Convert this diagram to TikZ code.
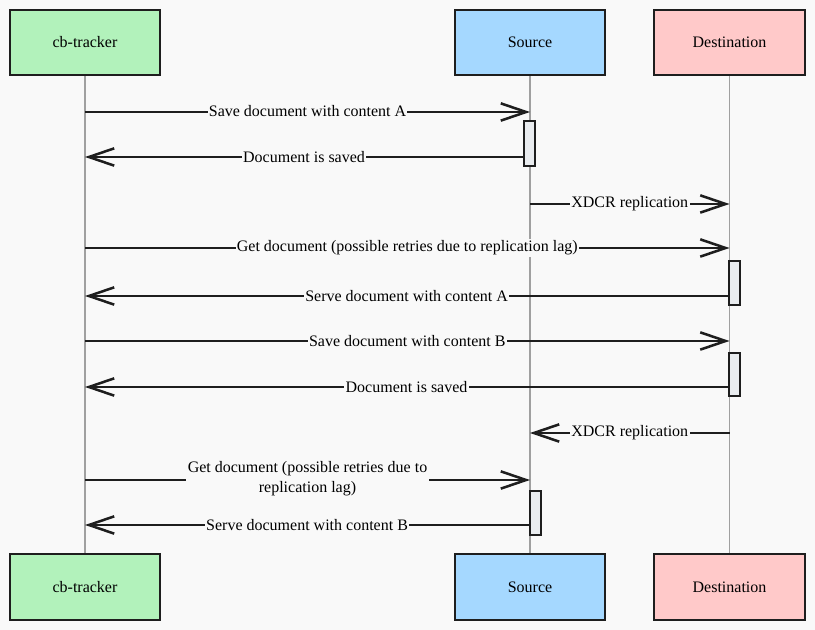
\documentclass[tikz,border=0pt]{standalone}
\usepackage{fontspec}
\setmainfont{Liberation Serif}
\usetikzlibrary{arrows.meta}
\definecolor{bg}{HTML}{F9F9F9}
\definecolor{ink}{HTML}{1E1E1E}
\definecolor{trkgreen}{HTML}{B2F2BB}
\definecolor{srcblue}{HTML}{A5D8FF}
\definecolor{dstpink}{HTML}{FFC9C9}
\definecolor{actfill}{HTML}{E9ECEF}
\definecolor{lifegray}{HTML}{A0A0A0}
\tikzset{
  actor/.style={draw=ink, line width=1.6pt, minimum width=113pt, minimum height=49pt,
    inner sep=0pt, font=\fontsize{12}{14}\selectfont},
  lifeline/.style={draw=lifegray, line width=0.8pt},
  actbar/.style={draw=ink, fill=actfill, line width=1.3pt, minimum width=8.25pt, inner sep=0pt},
  msg/.style={draw=ink, line width=2.1pt, -{Straight Barb[length=19pt,width=13pt,line width=1.9pt]}},
  lbl/.style={fill=bg, inner sep=1pt, font=\fontsize{12}{15}\selectfont, text=black}
}
\begin{document}
\begin{tikzpicture}[x=0.75pt,y=-0.75pt]
  \fill[bg] (0,0) rectangle (815,630);
  \useasboundingbox (0,0) rectangle (815,630);

  % participants, top and bottom
  \node[actor, fill=trkgreen] (trkTop) at (85,42.5) {cb-tracker};
  \node[actor, fill=srcblue]  (srcTop) at (530,42.5) {Source};
  \node[actor, fill=dstpink]  (dstTop) at (729.5,42.5) {Destination};
  \node[actor, fill=trkgreen] (trkBot) at (85,587) {cb-tracker};
  \node[actor, fill=srcblue]  (srcBot) at (530,587) {Source};
  \node[actor, fill=dstpink]  (dstBot) at (729.5,587) {Destination};

  % lifelines
  \draw[lifeline] (trkTop.south) -- (trkBot.north);
  \draw[lifeline] (srcTop.south) -- (srcBot.north);
  \draw[lifeline] (dstTop.south) -- (dstBot.north);

  % activation bars
  \node[actbar, minimum height=33.75pt] (act1) at (529.5,143.5) {};
  \node[actbar, minimum height=33.4pt]  (act2) at (734.5,283) {};
  \node[actbar, minimum height=32.25pt] (act3) at (734.5,374.5) {};
  \node[actbar, minimum height=33pt]    (act4) at (535.5,513) {};

  % messages
  \draw[msg] (trkTop |- 0,112) -- node[lbl, yshift=1pt] {Save document with content A} (srcTop |- 0,112);
  \draw[msg] (act1.west |- 0,157) -- node[lbl] {Document is saved} (trkTop |- 0,157);
  \draw[msg] (srcTop |- 0,204) -- node[lbl] {XDCR replication} (dstTop |- 0,204);
  \draw[msg] (trkTop |- 0,248) -- node[lbl] {Get document (possible retries due to replication lag)} (dstTop |- 0,248);
  \draw[msg] (act2.west |- 0,296) -- node[lbl] {Serve document with content A} (trkTop |- 0,296);
  \draw[msg] (trkTop |- 0,341) -- node[lbl] {Save document with content B} (dstTop |- 0,341);
  \draw[msg] (act3.west |- 0,387) -- node[lbl] {Document is saved} (trkTop |- 0,387);
  \draw[msg] (dstTop |- 0,433) -- node[lbl] {XDCR replication} (srcTop |- 0,433);
  \draw[msg] (trkTop |- 0,480) -- node[lbl, align=center, yshift=1pt] {Get document (possible retries due to\\replication lag)} (srcTop |- 0,480);
  \draw[msg] (act4.west |- 0,525) -- node[lbl] {Serve document with content B} (trkTop |- 0,525);
\end{tikzpicture}
\end{document}
